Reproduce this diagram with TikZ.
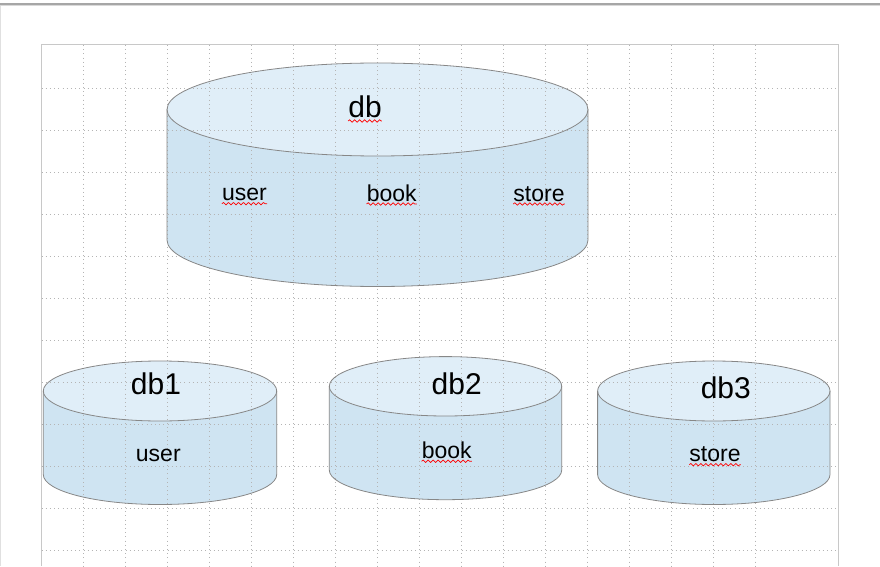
\documentclass[tikz,border=0pt]{standalone}
\usepackage{fontspec}
\setmainfont{Liberation Sans}
\usetikzlibrary{decorations.pathmorphing}
\definecolor{topcol}{RGB}{224,238,248}
\definecolor{bodycol}{RGB}{207,228,242}
\definecolor{edgecol}{RGB}{135,135,135}
\definecolor{gridcol}{RGB}{180,180,180}
\definecolor{pagecol}{RGB}{200,200,200}
\tikzset{
  lbl/.style={anchor=base,inner sep=0pt,font=\fontsize{23}{27}\selectfont},
  big/.style={anchor=base,inner sep=0pt,font=\fontsize{30}{34}\selectfont},
  squig/.style={draw=red,line width=0.7pt,decorate,decoration={snake,segment length=5pt,amplitude=1.2pt}},
  gridline/.style={draw=gridcol,line width=0.7pt,dash pattern=on 0.9pt off 3.3pt},
}
% cx, ytop, ybot (y-up), rx, ry
\newcommand\dbfill[5]{%
  \fill[bodycol] (#1-#4,#2) -- (#1-#4,#3) arc[start angle=180,end angle=360,x radius=#4pt,y radius=#5pt] -- (#1+#4,#2) -- cycle;
  \fill[topcol] (#1,#2) ellipse[x radius=#4pt,y radius=#5pt];}
\newcommand\dbedge[5]{%
  \draw[edgecol,line width=0.8pt] (#1-#4,#2) -- (#1-#4,#3) arc[start angle=180,end angle=360,x radius=#4pt,y radius=#5pt] -- (#1+#4,#2);
  \draw[edgecol,line width=0.8pt] (#1,#2) ellipse[x radius=#4pt,y radius=#5pt];}
\begin{document}
\begin{tikzpicture}[x=1pt,y=1pt]
\useasboundingbox (0,0) rectangle (880,566);
\fill[white] (0,0) rectangle (880,566);
% top bar and left edge
\fill[black!35] (0,560.5) rectangle (880,563);
\fill[black!15] (0,559.5) rectangle (880,560.5);
\draw[black!12,line width=1pt] (0.5,0) -- (0.5,560);
% page
\draw[pagecol,line width=1pt] (41,0) -- (41,521) -- (838,521) -- (838,0);
% cylinder fills
\dbfill{377.5}{456.5}{326}{210.5}{46.5}
\dbfill{160}{175}{91.5}{116.7}{30}
\dbfill{445.5}{179.7}{96}{116.2}{29.7}
\dbfill{713.8}{175}{91.5}{116.2}{30}
% grid
\foreach \gx in {83.3,125.3,...,797} \draw[gridline] (\gx,521) -- (\gx,0);
\foreach \gy in {477.7,435.7,...,10} \draw[gridline] (41.5,\gy) -- (837.5,\gy);
% cylinder edges
\dbedge{377.5}{456.5}{326}{210.5}{46.5}
\dbedge{160}{175}{91.5}{116.7}{30}
\dbedge{445.5}{179.7}{96}{116.2}{29.7}
\dbedge{713.8}{175}{91.5}{116.2}{30}
% labels
\node[big] (db) at (365,448) {db};
\node[lbl] (u0) at (244.5,365.3) {user};
\node[lbl] (b0) at (391.7,365) {book};
\node[lbl] (s0) at (539,365) {store};
\node[big] (db1) at (156,171.7) {db1};
\node[lbl] (u1) at (158.3,104.3) {user};
\node[big] (db2) at (456.7,172) {db2};
\node[lbl] (b2) at (446.7,107.7) {book};
\node[big] (db3) at (725.8,167.7) {db3};
\node[lbl] (s3) at (715,104.3) {store};
% spell-check squiggles
\foreach \n in {db,u0,b0,s0,b2,s3}
  \draw[squig] ([yshift=-3pt]\n.base west) -- ([yshift=-3pt]\n.base east);
\end{tikzpicture}
\end{document}
